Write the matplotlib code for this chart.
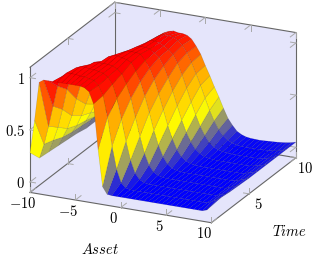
import matplotlib
matplotlib.use("Agg")
import matplotlib.pyplot as plt
from matplotlib.colors import LinearSegmentedColormap
from mpl_toolkits.mplot3d.art3d import Poly3DCollection
from mpl_toolkits.mplot3d import proj3d
import numpy as np

plt.rcParams['mathtext.fontset'] = 'cm'

asset = np.arange(-10, 10.5, 0.5)
time = np.arange(1, 11)

# one row per time step, one column per asset value (-10 ... 10 in steps of 0.5)
value = np.array([
    [.28, .60, .97, 1.0, 1.0, 1.0, 1.0, 1.0, 1.0, 1.0, 1.0, 1.0, .99, .96, .85,
     .42, .07, .005, 0, 0, 0, 0, 0, 0, 0, 0, 0, 0, 0, 0, 0, 0, 0, 0, 0, 0, 0, 0, 0, .015, .06],
    [.16, .30, .48, .68, .88, .98, 1.02, 1.02, 1.02, 1.01, 1.01, 1.0, .99, .95, .86,
     .66, .39, .175, .055, .012, .002, 0, 0, 0, 0, 0, 0, 0, 0, 0, 0, 0, 0, 0, 0, 0, 0, 0, .02, .04, .07],
    [.15, .27, .40, .58, .78, .92, 1.0, 1.02, 1.02, 1.01, 1.01, 1.0, .99, .96, .90,
     .77, .58, .375, .20, .085, .03, .008, 0, 0, 0, 0, 0, 0, 0, 0, 0, 0, 0, 0, 0, 0, 0, 0, .02, .03, .06],
    [.14, .23, .32, .45, .62, .77, .89, .97, 1.0, 1.0, 1.0, 1.0, .99, .97, .93,
     .84, .71, .535, .36, .205, .10, .042, .015, .004, 0, 0, 0, 0, 0, 0, 0, 0, 0, 0, 0, 0, 0, 0, .02, .03, .055],
    [.13, .21, .28, .38, .50, .62, .75, .86, .94, .99, 1.01, 1.01, 1.0, .99, .97,
     .895, .80, .67, .52, .355, .22, .12, .056, .023, .008, .002, 0, 0, 0, 0, 0, 0, 0, 0, 0, 0, 0, .005, .02, .03, .05],
    [.12, .20, .26, .34, .43, .54, .66, .77, .86, .93, .97, .99, .99, .99, .98,
     .925, .86, .76, .63, .485, .34, .22, .125, .064, .03, .012, .005, .001, 0, 0, 0, 0, 0, 0, 0, 0, 0, .005, .02, .03, .05],
    [.10, .19, .23, .29, .37, .46, .56, .67, .78, .87, .93, .96, .97, .97, .96,
     .93, .895, .82, .715, .595, .46, .33, .22, .135, .075, .04, .017, .007, .003, 0, 0, 0, 0, 0, 0, 0, 0, .008, .02, .03, .05],
    [.10, .18, .22, .27, .33, .41, .50, .61, .72, .81, .89, .93, .96, .96, .95,
     .93, .90, .86, .785, .68, .56, .435, .32, .215, .135, .078, .04, .02, .01, .004, .002, 0, 0, 0, 0, 0, .004, .01, .02, .03, .05],
    [.10, .18, .21, .26, .31, .38, .47, .57, .67, .77, .85, .91, .94, .95, .95,
     .94, .92, .88, .815, .73, .63, .525, .41, .30, .205, .13, .08, .045, .023, .012, .006, .004, .004, .004, .006, .008, .01, .014, .02, .03, .05],
    [.10, .17, .20, .24, .30, .37, .46, .56, .66, .76, .84, .89, .91, .92, .91,
     .91, .90, .87, .81, .74, .64, .55, .45, .36, .26, .17, .11, .06, .035, .02, .014, .012, .01, .012, .015, .017, .02, .024, .03, .038, .05],
])

x_ticks = [-10, -5, 0, 5, 10]
t_ticks = [5, 10]
z_ticks = [0, 0.5, 1]
x_tick_labels = [r'$-10$', r'$-5$', r'$0$', r'$5$', r'$10$']
t_tick_labels = [r'$5$', r'$10$']
z_tick_labels = [r'$0$', r'$0.5$', r'$1$']

xmin, xmax = -10, 10
tmin, tmax = 1, 10
zmin, zmax = -0.1, 1.1

hot = LinearSegmentedColormap.from_list('hot2', ['#0000ff', '#ffff00', '#ffa500', '#ff0000'])

fig = plt.figure(figsize=(3.22, 2.63), dpi=100)
ax = fig.add_axes([6.9 / 322, -5.6 / 263, 304 / 322, 304 / 263], projection='3d',
                  proj_type='ortho', computed_zorder=False)
ax.view_init(elev=21, azim=-65)
ax.set_box_aspect((200, 200, 134))
ax.set_xlim(xmin, xmax, view_margin=0)
ax.set_ylim(tmin, tmax, view_margin=0)
ax.set_zlim(zmin, zmax, view_margin=0)
ax.set_axis_off()
ax.patch.set_alpha(0)

# back panes
panes = [
    [(xmin, tmin, zmin), (xmax, tmin, zmin), (xmax, tmax, zmin), (xmin, tmax, zmin)],
    [(xmin, tmin, zmin), (xmin, tmax, zmin), (xmin, tmax, zmax), (xmin, tmin, zmax)],
    [(xmin, tmax, zmin), (xmax, tmax, zmin), (xmax, tmax, zmax), (xmin, tmax, zmax)],
]
ax.add_collection3d(Poly3DCollection(panes, facecolor='#e5e5fb', edgecolor='none', zorder=0))

# box edges
edge_col = '#666666'
edges = [
    ((xmin, tmin, zmin), (xmin, tmin, zmax)),
    ((xmin, tmax, zmin), (xmin, tmax, zmax)),
    ((xmax, tmax, zmin), (xmax, tmax, zmax)),
    ((xmin, tmin, zmax), (xmin, tmax, zmax)),
    ((xmin, tmax, zmax), (xmax, tmax, zmax)),
    ((xmin, tmin, zmin), (xmax, tmin, zmin)),
    ((xmax, tmin, zmin), (xmax, tmax, zmin)),
    ((xmin, tmin, zmin), (xmin, tmax, zmin)),
    ((xmin, tmax, zmin), (xmax, tmax, zmin)),
]
for a, b in edges:
    ax.plot(*zip(a, b), color=edge_col, lw=0.8, zorder=1)

# small two stroke ticks
dx, dt, dz = 0.6, 0.6, 0.055
tick_col = '#a8a8a8'


def tick(p, d1, d2):
    for d in (d1, d2):
        ax.plot([p[0], p[0] + d[0]], [p[1], p[1] + d[1]], [p[2], p[2] + d[2]],
                color=tick_col, lw=0.7, zorder=1)


for v in x_ticks:
    tick((v, tmin, zmin), (0, dt, 0), (0, 0, dz))
    tick((v, tmax, zmin), (0, -dt, 0), (0, 0, dz))
    tick((v, tmax, zmax), (0, -dt, 0), (0, 0, -dz))
for v in t_ticks:
    tick((xmax, v, zmin), (-dx, 0, 0), (0, 0, dz))
    tick((xmin, v, zmin), (dx, 0, 0), (0, 0, dz))
    tick((xmin, v, zmax), (dx, 0, 0), (0, 0, -dz))
for v in z_ticks:
    tick((xmin, tmin, v), (0, dt, 0), (dx, 0, 0))
    tick((xmax, tmax, v), (0, -dt, 0), (-dx, 0, 0))
    tick((xmin, tmax, v), (dx, 0, 0), (0, -dt, 0))

X, T = np.meshgrid(asset, time)
surf = ax.plot_surface(X, T, value, cmap=hot, vmin=0, vmax=0.95, rstride=1, cstride=1, shade=False,
                       linewidth=0.35, antialiased=True, zorder=2)
surf.set_edgecolor((0, 0, 0, 0.18))


# tick labels sit next to the box, placed through the 3d projection
def label3d(x, y, z, s, ha='center'):
    px, py, _ = proj3d.proj_transform(x, y, z, ax.get_proj())
    ax.text2D(px, py, s, transform=ax.transData, ha=ha, va='center', fontsize=10.5, zorder=3)


for v, s in zip(x_ticks, x_tick_labels):
    label3d(v, tmin - 0.75, zmin - 0.054, s)
for v, s in zip(t_ticks, t_tick_labels):
    label3d(xmax + 1.04, v, zmin - 0.09, s)
for v, s in zip(z_ticks, z_tick_labels):
    label3d(xmin, tmin - 0.54, v + 0.02, s, ha='right')

fig.text(100 / 322, 1 - 249 / 263, r'$Asset$', ha='center', va='center', fontsize=10.5)
fig.text(289 / 322, 1 - 231 / 263, r'$Time$', ha='center', va='center', fontsize=10.5)

fig.savefig('out.png', dpi=100)
